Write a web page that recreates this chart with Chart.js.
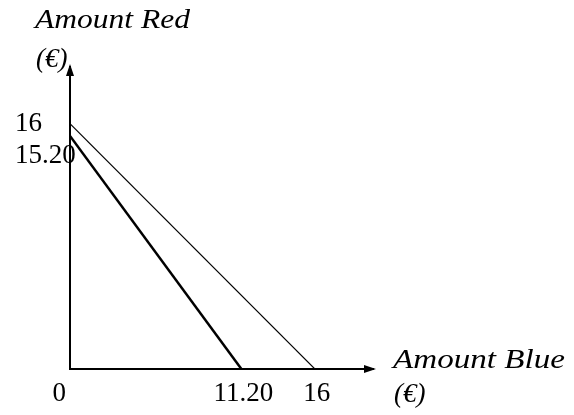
<!DOCTYPE html>
<html>
<head>
<meta charset="utf-8">
<script src="https://cdn.jsdelivr.net/npm/chart.js@4.4.1/dist/chart.umd.min.js"></script>
<style>
  html, body { margin: 0; padding: 0; background: #fff; }
</style>
</head>
<body>
<canvas id="chart" width="574" height="415"></canvas>
<script>
// budget lines (x = amount blue, y = amount red)
const oldBudgetX = [0, 16];
const oldBudgetY = [16, 0];
const newBudgetX = [0, 11.2];
const newBudgetY = [15.2, 0];

const xTickValues = [0, 11.2, 16];
const xTickLabels = ["0", "11.20", "16"];
const yTickValues = [16, 15.2];
const yTickLabels = ["16", "15.20"];

const xTitle = ["Amount Blue", "(€)"];
const yTitle = ["Amount Red", "(€)"];

const toPoints = (xs, ys) => xs.map((x, i) => ({ x: x, y: ys[i] }));

// ================= axes arrows + labels =================
const axisDecor = {
  id: "axisDecor",
  afterDraw(chart) {
    const ctx = chart.ctx;
    const area = chart.chartArea;
    const xs = chart.scales.x;
    const ys = chart.scales.y;
    ctx.save();
    ctx.fillStyle = "#000";

    // arrow heads
    ctx.beginPath();
    ctx.moveTo(area.right + 3, area.bottom);
    ctx.lineTo(area.right - 9, area.bottom - 4);
    ctx.lineTo(area.right - 9, area.bottom + 4);
    ctx.closePath();
    ctx.fill();
    ctx.beginPath();
    ctx.moveTo(area.left, area.top - 3);
    ctx.lineTo(area.left - 4, area.top + 9);
    ctx.lineTo(area.left + 4, area.top + 9);
    ctx.closePath();
    ctx.fill();

    // tick labels
    ctx.font = "27px 'Liberation Serif'";
    ctx.textBaseline = "alphabetic";
    xTickValues.forEach((v, i) => {
      const px = xs.getPixelForValue(v);
      if (v === 0) {
        ctx.textAlign = "right";
        ctx.fillText(xTickLabels[i], area.left - 4, area.bottom + 32);
      } else {
        ctx.textAlign = "center";
        ctx.fillText(xTickLabels[i], px + 2, area.bottom + 32);
      }
    });
    ctx.textAlign = "left";
    let prev = -Infinity;
    yTickValues.forEach((v, i) => {
      let c = ys.getPixelForValue(v) - 2;
      if (c < prev + 32) c = prev + 32;
      prev = c;
      ctx.fillText(yTickLabels[i], area.left - 55, c + 9.5);
    });

    // axis titles (stretched italic serif)
    function title(text, x, y, w) {
      ctx.font = "italic 27px 'Liberation Serif'";
      ctx.textAlign = "left";
      const m = ctx.measureText(text).width;
      ctx.save();
      ctx.translate(x, y);
      if (w) ctx.scale(w / m, 1);
      ctx.fillText(text, 0, 0);
      ctx.restore();
    }
    title(yTitle[0], area.left - 35, 28, 155);
    title(yTitle[1], area.left - 34, 67);
    title(xTitle[0], area.right + 20, area.bottom - 1, 172);
    title(xTitle[1], area.right + 21, area.bottom + 33);

    ctx.restore();
  }
};

new Chart(document.getElementById("chart"), {
  type: "scatter",
  data: {
    datasets: [
      {
        data: toPoints(oldBudgetX, oldBudgetY),
        showLine: true,
        borderColor: "#000",
        borderWidth: 1.1,
        pointRadius: 0
      },
      {
        data: toPoints(newBudgetX, newBudgetY),
        showLine: true,
        borderColor: "#000",
        borderWidth: 2.5,
        pointRadius: 0
      }
    ]
  },
  options: {
    responsive: false,
    animation: false,
    layout: { padding: { left: 70, top: 67, right: 201, bottom: 46 } },
    plugins: { legend: { display: false }, tooltip: { enabled: false } },
    scales: {
      x: {
        type: "linear",
        min: 0,
        max: 19.8,
        ticks: { display: false },
        grid: { display: false, drawTicks: false },
        border: { display: true, color: "#000", width: 2 }
      },
      y: {
        type: "linear",
        min: 0,
        max: 19.7,
        ticks: { display: false },
        grid: { display: false, drawTicks: false },
        border: { display: true, color: "#000", width: 2 }
      }
    }
  },
  plugins: [axisDecor]
});
</script>
</body>
</html>
